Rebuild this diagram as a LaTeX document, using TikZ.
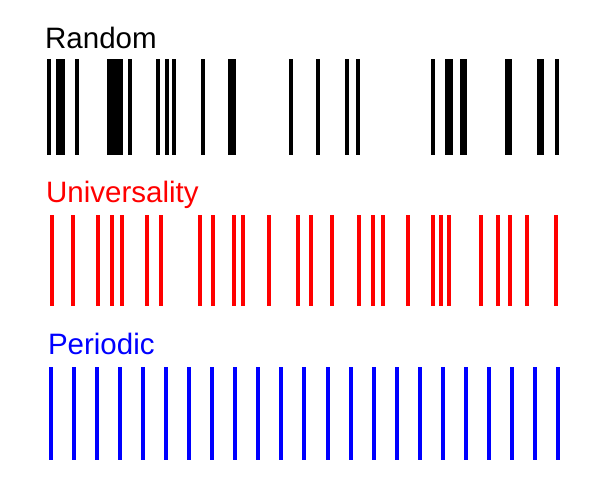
\documentclass[tikz,border=0pt]{standalone}
\usepackage{fontspec}
\setmainfont{Liberation Sans}
\begin{document}
\begin{tikzpicture}[x=1pt,y=-1pt]
\useasboundingbox (0,0) rectangle (608,501);
\tikzset{lbl/.style={anchor=base west, inner sep=0pt, font=\fontsize{29.5}{31}\selectfont}}
\node[lbl] (random) at (45,48.5) {Random};
\node[lbl, text=red] (univ) at (46,202.3) {Universality};
\node[lbl, text=blue] (periodic) at (47.8,354.8) {Periodic};
% Random bars
\foreach \a/\b in {47.3/51.3, 55.7/65.3, 75.3/79.3, 107.3/123.3, 128/132, 156/160, 165/169, 172/176, 200.7/204.7, 228.3/236, 289/293, 316/320, 345/349, 356/360, 431/435, 445/453, 460/467, 505/512, 537/544, 555/559}
  \fill[black] (\a,59) rectangle (\b,155);
% Universality bars
\foreach \c in {52,73,98,112,122,147,161,200,213,234,243,269,298,311,332,359,373,383,408,433,441,449,481,498,510,527,556}
  \fill[red] (\c-2,215) rectangle (\c+2,306);
% Periodic bars
\foreach \i in {0,...,22}
  \fill[blue] ({51+23.045*\i-2},367) rectangle ({51+23.045*\i+2},460);
\end{tikzpicture}
\end{document}
